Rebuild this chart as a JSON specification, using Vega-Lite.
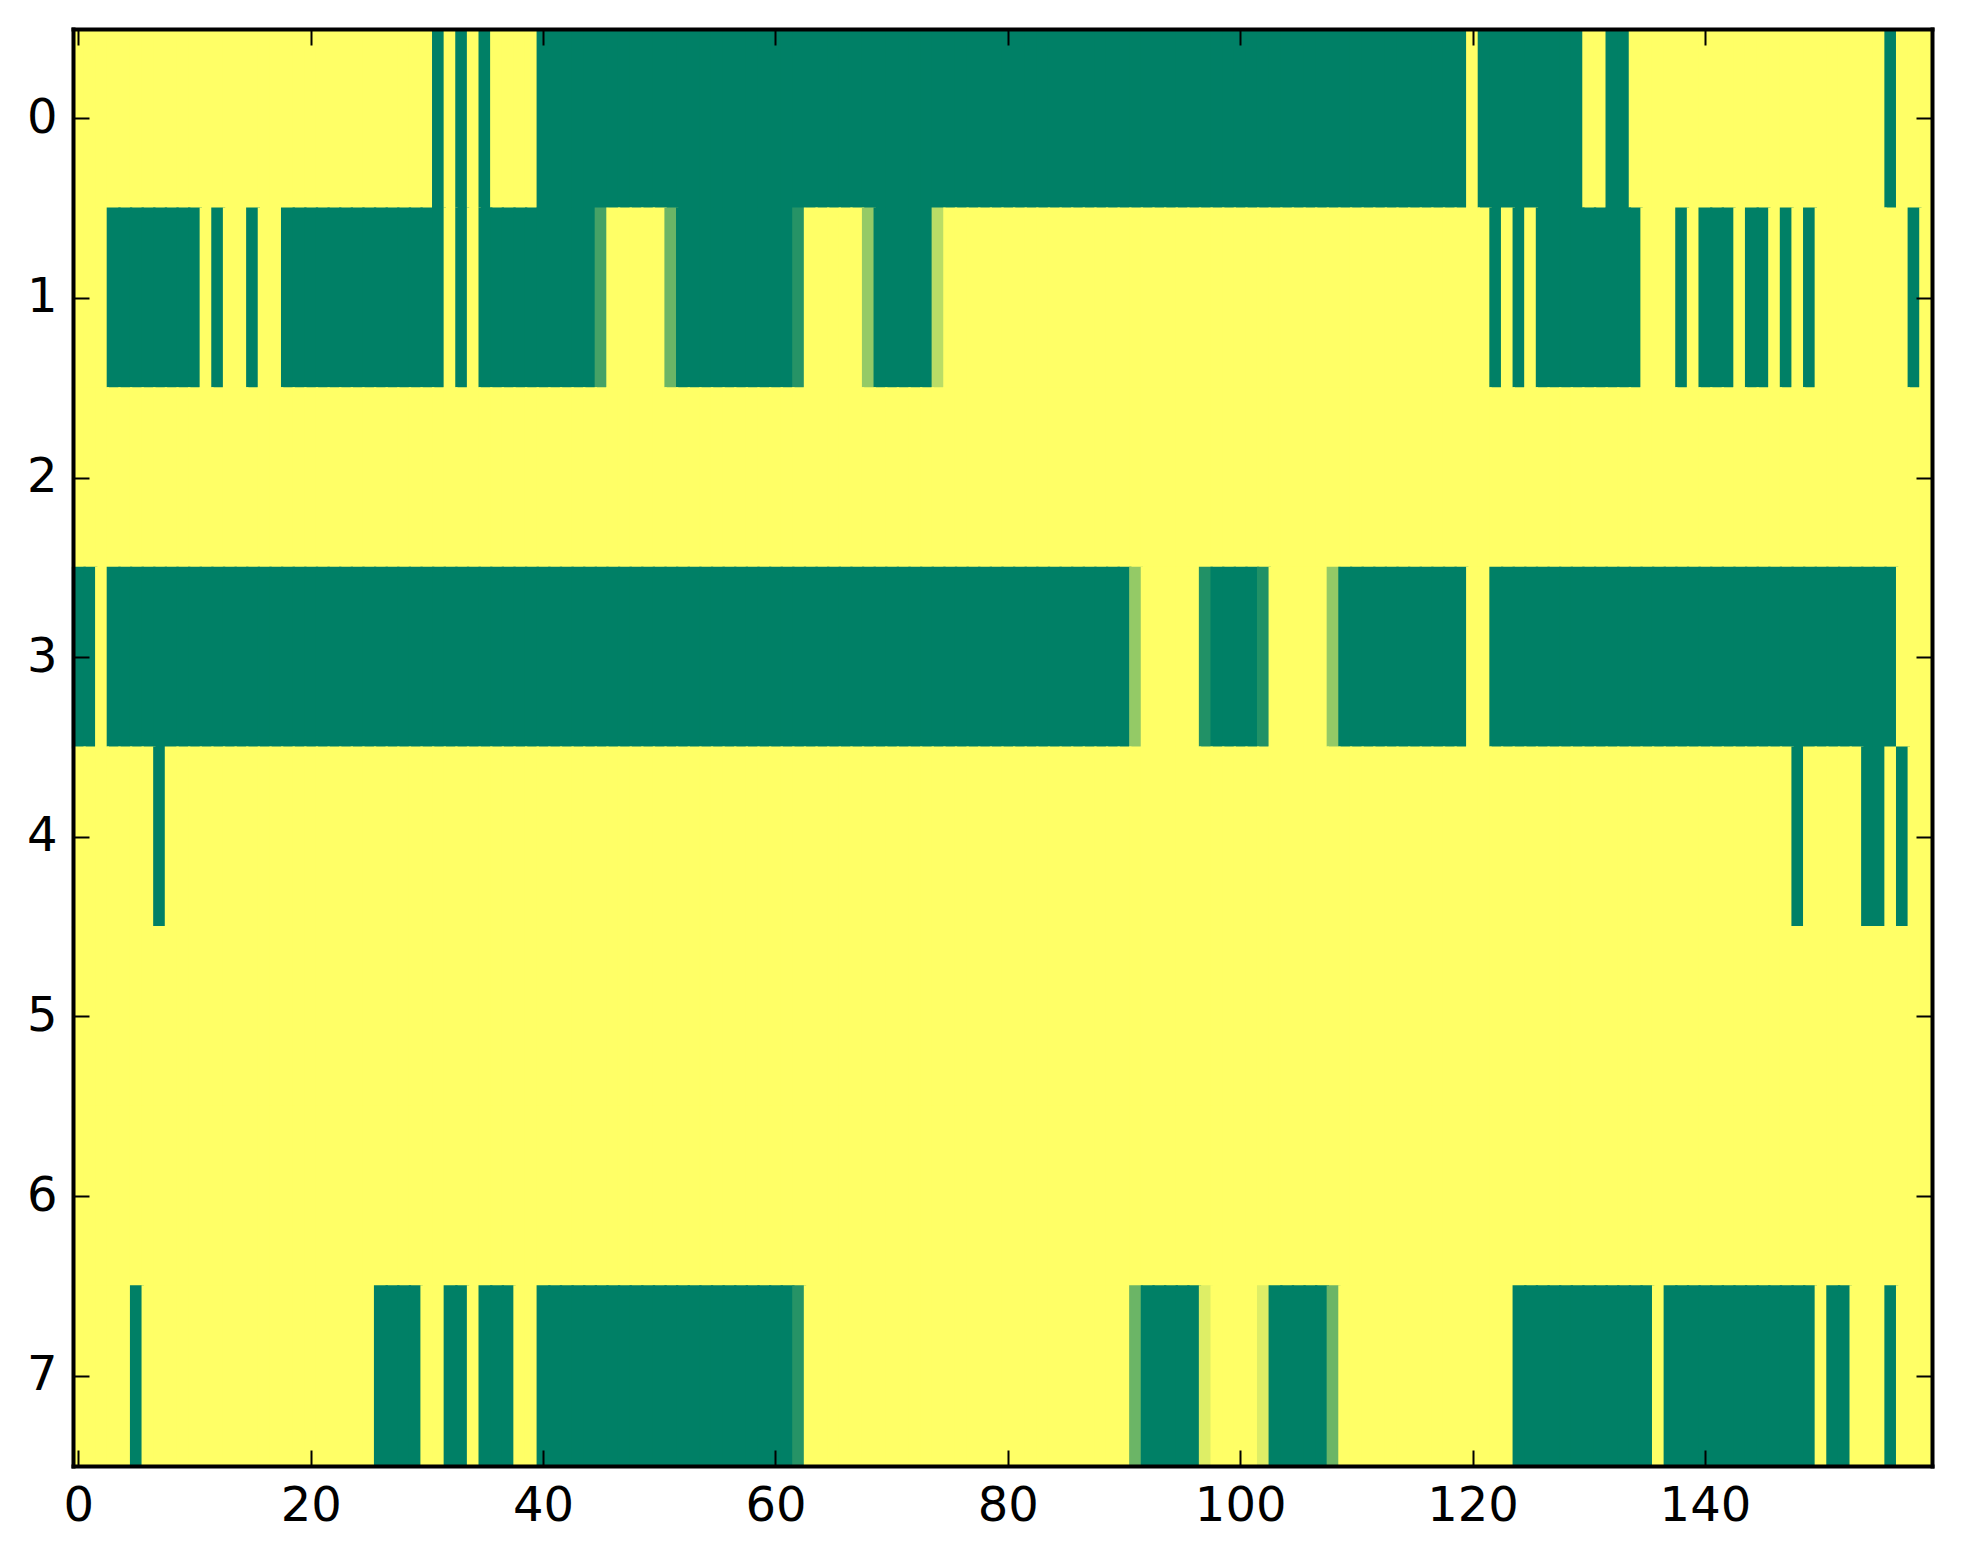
{
"$schema":"https://vega.github.io/schema/vega-lite/v6.json",
"width":1859,"height":1437,
"autosize":{"type":"none"},
"padding":{"left":73,"top":29,"right":31,"bottom":98},
"background":"white",
"config":{"view":{"stroke":null},"axis":{"labelFont":"DejaVu Sans","labelFontSize":48,"labelColor":"black","tickColor":"black","tickWidth":2,"tickSize":-16,"domainColor":"black","domainWidth":4,"domainCap":"square","grid":false,"title":null}},
"data":{"values":[
{"r":0,"c":0,"v":0},{"r":0,"c":1,"v":0},{"r":0,"c":2,"v":0},{"r":0,"c":3,"v":0},{"r":0,"c":4,"v":0},{"r":0,"c":5,"v":0},{"r":0,"c":6,"v":0},{"r":0,"c":7,"v":0},{"r":0,"c":8,"v":0},{"r":0,"c":9,"v":0},
{"r":0,"c":10,"v":0},{"r":0,"c":11,"v":0},{"r":0,"c":12,"v":0},{"r":0,"c":13,"v":0},{"r":0,"c":14,"v":0},{"r":0,"c":15,"v":0},{"r":0,"c":16,"v":0},{"r":0,"c":17,"v":0},{"r":0,"c":18,"v":0},{"r":0,"c":19,"v":0},
{"r":0,"c":20,"v":0},{"r":0,"c":21,"v":0},{"r":0,"c":22,"v":0},{"r":0,"c":23,"v":0},{"r":0,"c":24,"v":0},{"r":0,"c":25,"v":0},{"r":0,"c":26,"v":0},{"r":0,"c":27,"v":0},{"r":0,"c":28,"v":0},{"r":0,"c":29,"v":0},
{"r":0,"c":30,"v":0},{"r":0,"c":31,"v":1},{"r":0,"c":32,"v":0},{"r":0,"c":33,"v":1},{"r":0,"c":34,"v":0},{"r":0,"c":35,"v":1},{"r":0,"c":36,"v":0},{"r":0,"c":37,"v":0},{"r":0,"c":38,"v":0},{"r":0,"c":39,"v":0},
{"r":0,"c":40,"v":1},{"r":0,"c":41,"v":1},{"r":0,"c":42,"v":1},{"r":0,"c":43,"v":1},{"r":0,"c":44,"v":1},{"r":0,"c":45,"v":1},{"r":0,"c":46,"v":1},{"r":0,"c":47,"v":1},{"r":0,"c":48,"v":1},{"r":0,"c":49,"v":1},
{"r":0,"c":50,"v":1},{"r":0,"c":51,"v":1},{"r":0,"c":52,"v":1},{"r":0,"c":53,"v":1},{"r":0,"c":54,"v":1},{"r":0,"c":55,"v":1},{"r":0,"c":56,"v":1},{"r":0,"c":57,"v":1},{"r":0,"c":58,"v":1},{"r":0,"c":59,"v":1},
{"r":0,"c":60,"v":1},{"r":0,"c":61,"v":1},{"r":0,"c":62,"v":1},{"r":0,"c":63,"v":1},{"r":0,"c":64,"v":1},{"r":0,"c":65,"v":1},{"r":0,"c":66,"v":1},{"r":0,"c":67,"v":1},{"r":0,"c":68,"v":1},{"r":0,"c":69,"v":1},
{"r":0,"c":70,"v":1},{"r":0,"c":71,"v":1},{"r":0,"c":72,"v":1},{"r":0,"c":73,"v":1},{"r":0,"c":74,"v":1},{"r":0,"c":75,"v":1},{"r":0,"c":76,"v":1},{"r":0,"c":77,"v":1},{"r":0,"c":78,"v":1},{"r":0,"c":79,"v":1},
{"r":0,"c":80,"v":1},{"r":0,"c":81,"v":1},{"r":0,"c":82,"v":1},{"r":0,"c":83,"v":1},{"r":0,"c":84,"v":1},{"r":0,"c":85,"v":1},{"r":0,"c":86,"v":1},{"r":0,"c":87,"v":1},{"r":0,"c":88,"v":1},{"r":0,"c":89,"v":1},
{"r":0,"c":90,"v":1},{"r":0,"c":91,"v":1},{"r":0,"c":92,"v":1},{"r":0,"c":93,"v":1},{"r":0,"c":94,"v":1},{"r":0,"c":95,"v":1},{"r":0,"c":96,"v":1},{"r":0,"c":97,"v":1},{"r":0,"c":98,"v":1},{"r":0,"c":99,"v":1},
{"r":0,"c":100,"v":1},{"r":0,"c":101,"v":1},{"r":0,"c":102,"v":1},{"r":0,"c":103,"v":1},{"r":0,"c":104,"v":1},{"r":0,"c":105,"v":1},{"r":0,"c":106,"v":1},{"r":0,"c":107,"v":1},{"r":0,"c":108,"v":1},{"r":0,"c":109,"v":1},
{"r":0,"c":110,"v":1},{"r":0,"c":111,"v":1},{"r":0,"c":112,"v":1},{"r":0,"c":113,"v":1},{"r":0,"c":114,"v":1},{"r":0,"c":115,"v":1},{"r":0,"c":116,"v":1},{"r":0,"c":117,"v":1},{"r":0,"c":118,"v":1},{"r":0,"c":119,"v":1},
{"r":0,"c":120,"v":0},{"r":0,"c":121,"v":1},{"r":0,"c":122,"v":1},{"r":0,"c":123,"v":1},{"r":0,"c":124,"v":1},{"r":0,"c":125,"v":1},{"r":0,"c":126,"v":1},{"r":0,"c":127,"v":1},{"r":0,"c":128,"v":1},{"r":0,"c":129,"v":1},
{"r":0,"c":130,"v":0},{"r":0,"c":131,"v":0},{"r":0,"c":132,"v":1},{"r":0,"c":133,"v":1},{"r":0,"c":134,"v":0},{"r":0,"c":135,"v":0},{"r":0,"c":136,"v":0},{"r":0,"c":137,"v":0},{"r":0,"c":138,"v":0},{"r":0,"c":139,"v":0},
{"r":0,"c":140,"v":0},{"r":0,"c":141,"v":0},{"r":0,"c":142,"v":0},{"r":0,"c":143,"v":0},{"r":0,"c":144,"v":0},{"r":0,"c":145,"v":0},{"r":0,"c":146,"v":0},{"r":0,"c":147,"v":0},{"r":0,"c":148,"v":0},{"r":0,"c":149,"v":0},
{"r":0,"c":150,"v":0},{"r":0,"c":151,"v":0},{"r":0,"c":152,"v":0},{"r":0,"c":153,"v":0},{"r":0,"c":154,"v":0},{"r":0,"c":155,"v":0},{"r":0,"c":156,"v":1},{"r":0,"c":157,"v":0},{"r":0,"c":158,"v":0},{"r":0,"c":159,"v":0},
{"r":1,"c":0,"v":0},{"r":1,"c":1,"v":0},{"r":1,"c":2,"v":0},{"r":1,"c":3,"v":1},{"r":1,"c":4,"v":1},{"r":1,"c":5,"v":1},{"r":1,"c":6,"v":1},{"r":1,"c":7,"v":1},{"r":1,"c":8,"v":1},{"r":1,"c":9,"v":1},
{"r":1,"c":10,"v":1},{"r":1,"c":11,"v":0},{"r":1,"c":12,"v":1},{"r":1,"c":13,"v":0},{"r":1,"c":14,"v":0},{"r":1,"c":15,"v":1},{"r":1,"c":16,"v":0},{"r":1,"c":17,"v":0},{"r":1,"c":18,"v":1},{"r":1,"c":19,"v":1},
{"r":1,"c":20,"v":1},{"r":1,"c":21,"v":1},{"r":1,"c":22,"v":1},{"r":1,"c":23,"v":1},{"r":1,"c":24,"v":1},{"r":1,"c":25,"v":1},{"r":1,"c":26,"v":1},{"r":1,"c":27,"v":1},{"r":1,"c":28,"v":1},{"r":1,"c":29,"v":1},
{"r":1,"c":30,"v":1},{"r":1,"c":31,"v":1},{"r":1,"c":32,"v":0},{"r":1,"c":33,"v":1},{"r":1,"c":34,"v":0},{"r":1,"c":35,"v":1},{"r":1,"c":36,"v":1},{"r":1,"c":37,"v":1},{"r":1,"c":38,"v":1},{"r":1,"c":39,"v":1},
{"r":1,"c":40,"v":1},{"r":1,"c":41,"v":1},{"r":1,"c":42,"v":1},{"r":1,"c":43,"v":1},{"r":1,"c":44,"v":1},{"r":1,"c":45,"v":0.73},{"r":1,"c":46,"v":0},{"r":1,"c":47,"v":0},{"r":1,"c":48,"v":0},{"r":1,"c":49,"v":0},
{"r":1,"c":50,"v":0},{"r":1,"c":51,"v":0.58},{"r":1,"c":52,"v":1},{"r":1,"c":53,"v":1},{"r":1,"c":54,"v":1},{"r":1,"c":55,"v":1},{"r":1,"c":56,"v":1},{"r":1,"c":57,"v":1},{"r":1,"c":58,"v":1},{"r":1,"c":59,"v":1},
{"r":1,"c":60,"v":1},{"r":1,"c":61,"v":1},{"r":1,"c":62,"v":0.85},{"r":1,"c":63,"v":0},{"r":1,"c":64,"v":0},{"r":1,"c":65,"v":0},{"r":1,"c":66,"v":0},{"r":1,"c":67,"v":0},{"r":1,"c":68,"v":0.42},{"r":1,"c":69,"v":1},
{"r":1,"c":70,"v":1},{"r":1,"c":71,"v":1},{"r":1,"c":72,"v":1},{"r":1,"c":73,"v":1},{"r":1,"c":74,"v":0.27},{"r":1,"c":75,"v":0},{"r":1,"c":76,"v":0},{"r":1,"c":77,"v":0},{"r":1,"c":78,"v":0},{"r":1,"c":79,"v":0},
{"r":1,"c":80,"v":0},{"r":1,"c":81,"v":0},{"r":1,"c":82,"v":0},{"r":1,"c":83,"v":0},{"r":1,"c":84,"v":0},{"r":1,"c":85,"v":0},{"r":1,"c":86,"v":0},{"r":1,"c":87,"v":0},{"r":1,"c":88,"v":0},{"r":1,"c":89,"v":0},
{"r":1,"c":90,"v":0},{"r":1,"c":91,"v":0},{"r":1,"c":92,"v":0},{"r":1,"c":93,"v":0},{"r":1,"c":94,"v":0},{"r":1,"c":95,"v":0},{"r":1,"c":96,"v":0},{"r":1,"c":97,"v":0},{"r":1,"c":98,"v":0},{"r":1,"c":99,"v":0},
{"r":1,"c":100,"v":0},{"r":1,"c":101,"v":0},{"r":1,"c":102,"v":0},{"r":1,"c":103,"v":0},{"r":1,"c":104,"v":0},{"r":1,"c":105,"v":0},{"r":1,"c":106,"v":0},{"r":1,"c":107,"v":0},{"r":1,"c":108,"v":0},{"r":1,"c":109,"v":0},
{"r":1,"c":110,"v":0},{"r":1,"c":111,"v":0},{"r":1,"c":112,"v":0},{"r":1,"c":113,"v":0},{"r":1,"c":114,"v":0},{"r":1,"c":115,"v":0},{"r":1,"c":116,"v":0},{"r":1,"c":117,"v":0},{"r":1,"c":118,"v":0},{"r":1,"c":119,"v":0},
{"r":1,"c":120,"v":0},{"r":1,"c":121,"v":0},{"r":1,"c":122,"v":1},{"r":1,"c":123,"v":0},{"r":1,"c":124,"v":1},{"r":1,"c":125,"v":0},{"r":1,"c":126,"v":1},{"r":1,"c":127,"v":1},{"r":1,"c":128,"v":1},{"r":1,"c":129,"v":1},
{"r":1,"c":130,"v":1},{"r":1,"c":131,"v":1},{"r":1,"c":132,"v":1},{"r":1,"c":133,"v":1},{"r":1,"c":134,"v":1},{"r":1,"c":135,"v":0},{"r":1,"c":136,"v":0},{"r":1,"c":137,"v":0},{"r":1,"c":138,"v":1},{"r":1,"c":139,"v":0},
{"r":1,"c":140,"v":1},{"r":1,"c":141,"v":1},{"r":1,"c":142,"v":1},{"r":1,"c":143,"v":0},{"r":1,"c":144,"v":1},{"r":1,"c":145,"v":1},{"r":1,"c":146,"v":0},{"r":1,"c":147,"v":1},{"r":1,"c":148,"v":0},{"r":1,"c":149,"v":1},
{"r":1,"c":150,"v":0},{"r":1,"c":151,"v":0},{"r":1,"c":152,"v":0},{"r":1,"c":153,"v":0},{"r":1,"c":154,"v":0},{"r":1,"c":155,"v":0},{"r":1,"c":156,"v":0},{"r":1,"c":157,"v":0},{"r":1,"c":158,"v":1},{"r":1,"c":159,"v":0},
{"r":2,"c":0,"v":0},{"r":2,"c":1,"v":0},{"r":2,"c":2,"v":0},{"r":2,"c":3,"v":0},{"r":2,"c":4,"v":0},{"r":2,"c":5,"v":0},{"r":2,"c":6,"v":0},{"r":2,"c":7,"v":0},{"r":2,"c":8,"v":0},{"r":2,"c":9,"v":0},
{"r":2,"c":10,"v":0},{"r":2,"c":11,"v":0},{"r":2,"c":12,"v":0},{"r":2,"c":13,"v":0},{"r":2,"c":14,"v":0},{"r":2,"c":15,"v":0},{"r":2,"c":16,"v":0},{"r":2,"c":17,"v":0},{"r":2,"c":18,"v":0},{"r":2,"c":19,"v":0},
{"r":2,"c":20,"v":0},{"r":2,"c":21,"v":0},{"r":2,"c":22,"v":0},{"r":2,"c":23,"v":0},{"r":2,"c":24,"v":0},{"r":2,"c":25,"v":0},{"r":2,"c":26,"v":0},{"r":2,"c":27,"v":0},{"r":2,"c":28,"v":0},{"r":2,"c":29,"v":0},
{"r":2,"c":30,"v":0},{"r":2,"c":31,"v":0},{"r":2,"c":32,"v":0},{"r":2,"c":33,"v":0},{"r":2,"c":34,"v":0},{"r":2,"c":35,"v":0},{"r":2,"c":36,"v":0},{"r":2,"c":37,"v":0},{"r":2,"c":38,"v":0},{"r":2,"c":39,"v":0},
{"r":2,"c":40,"v":0},{"r":2,"c":41,"v":0},{"r":2,"c":42,"v":0},{"r":2,"c":43,"v":0},{"r":2,"c":44,"v":0},{"r":2,"c":45,"v":0},{"r":2,"c":46,"v":0},{"r":2,"c":47,"v":0},{"r":2,"c":48,"v":0},{"r":2,"c":49,"v":0},
{"r":2,"c":50,"v":0},{"r":2,"c":51,"v":0},{"r":2,"c":52,"v":0},{"r":2,"c":53,"v":0},{"r":2,"c":54,"v":0},{"r":2,"c":55,"v":0},{"r":2,"c":56,"v":0},{"r":2,"c":57,"v":0},{"r":2,"c":58,"v":0},{"r":2,"c":59,"v":0},
{"r":2,"c":60,"v":0},{"r":2,"c":61,"v":0},{"r":2,"c":62,"v":0},{"r":2,"c":63,"v":0},{"r":2,"c":64,"v":0},{"r":2,"c":65,"v":0},{"r":2,"c":66,"v":0},{"r":2,"c":67,"v":0},{"r":2,"c":68,"v":0},{"r":2,"c":69,"v":0},
{"r":2,"c":70,"v":0},{"r":2,"c":71,"v":0},{"r":2,"c":72,"v":0},{"r":2,"c":73,"v":0},{"r":2,"c":74,"v":0},{"r":2,"c":75,"v":0},{"r":2,"c":76,"v":0},{"r":2,"c":77,"v":0},{"r":2,"c":78,"v":0},{"r":2,"c":79,"v":0},
{"r":2,"c":80,"v":0},{"r":2,"c":81,"v":0},{"r":2,"c":82,"v":0},{"r":2,"c":83,"v":0},{"r":2,"c":84,"v":0},{"r":2,"c":85,"v":0},{"r":2,"c":86,"v":0},{"r":2,"c":87,"v":0},{"r":2,"c":88,"v":0},{"r":2,"c":89,"v":0},
{"r":2,"c":90,"v":0},{"r":2,"c":91,"v":0},{"r":2,"c":92,"v":0},{"r":2,"c":93,"v":0},{"r":2,"c":94,"v":0},{"r":2,"c":95,"v":0},{"r":2,"c":96,"v":0},{"r":2,"c":97,"v":0},{"r":2,"c":98,"v":0},{"r":2,"c":99,"v":0},
{"r":2,"c":100,"v":0},{"r":2,"c":101,"v":0},{"r":2,"c":102,"v":0},{"r":2,"c":103,"v":0},{"r":2,"c":104,"v":0},{"r":2,"c":105,"v":0},{"r":2,"c":106,"v":0},{"r":2,"c":107,"v":0},{"r":2,"c":108,"v":0},{"r":2,"c":109,"v":0},
{"r":2,"c":110,"v":0},{"r":2,"c":111,"v":0},{"r":2,"c":112,"v":0},{"r":2,"c":113,"v":0},{"r":2,"c":114,"v":0},{"r":2,"c":115,"v":0},{"r":2,"c":116,"v":0},{"r":2,"c":117,"v":0},{"r":2,"c":118,"v":0},{"r":2,"c":119,"v":0},
{"r":2,"c":120,"v":0},{"r":2,"c":121,"v":0},{"r":2,"c":122,"v":0},{"r":2,"c":123,"v":0},{"r":2,"c":124,"v":0},{"r":2,"c":125,"v":0},{"r":2,"c":126,"v":0},{"r":2,"c":127,"v":0},{"r":2,"c":128,"v":0},{"r":2,"c":129,"v":0},
{"r":2,"c":130,"v":0},{"r":2,"c":131,"v":0},{"r":2,"c":132,"v":0},{"r":2,"c":133,"v":0},{"r":2,"c":134,"v":0},{"r":2,"c":135,"v":0},{"r":2,"c":136,"v":0},{"r":2,"c":137,"v":0},{"r":2,"c":138,"v":0},{"r":2,"c":139,"v":0},
{"r":2,"c":140,"v":0},{"r":2,"c":141,"v":0},{"r":2,"c":142,"v":0},{"r":2,"c":143,"v":0},{"r":2,"c":144,"v":0},{"r":2,"c":145,"v":0},{"r":2,"c":146,"v":0},{"r":2,"c":147,"v":0},{"r":2,"c":148,"v":0},{"r":2,"c":149,"v":0},
{"r":2,"c":150,"v":0},{"r":2,"c":151,"v":0},{"r":2,"c":152,"v":0},{"r":2,"c":153,"v":0},{"r":2,"c":154,"v":0},{"r":2,"c":155,"v":0},{"r":2,"c":156,"v":0},{"r":2,"c":157,"v":0},{"r":2,"c":158,"v":0},{"r":2,"c":159,"v":0},
{"r":3,"c":0,"v":1},{"r":3,"c":1,"v":1},{"r":3,"c":2,"v":0},{"r":3,"c":3,"v":1},{"r":3,"c":4,"v":1},{"r":3,"c":5,"v":1},{"r":3,"c":6,"v":1},{"r":3,"c":7,"v":1},{"r":3,"c":8,"v":1},{"r":3,"c":9,"v":1},
{"r":3,"c":10,"v":1},{"r":3,"c":11,"v":1},{"r":3,"c":12,"v":1},{"r":3,"c":13,"v":1},{"r":3,"c":14,"v":1},{"r":3,"c":15,"v":1},{"r":3,"c":16,"v":1},{"r":3,"c":17,"v":1},{"r":3,"c":18,"v":1},{"r":3,"c":19,"v":1},
{"r":3,"c":20,"v":1},{"r":3,"c":21,"v":1},{"r":3,"c":22,"v":1},{"r":3,"c":23,"v":1},{"r":3,"c":24,"v":1},{"r":3,"c":25,"v":1},{"r":3,"c":26,"v":1},{"r":3,"c":27,"v":1},{"r":3,"c":28,"v":1},{"r":3,"c":29,"v":1},
{"r":3,"c":30,"v":1},{"r":3,"c":31,"v":1},{"r":3,"c":32,"v":1},{"r":3,"c":33,"v":1},{"r":3,"c":34,"v":1},{"r":3,"c":35,"v":1},{"r":3,"c":36,"v":1},{"r":3,"c":37,"v":1},{"r":3,"c":38,"v":1},{"r":3,"c":39,"v":1},
{"r":3,"c":40,"v":1},{"r":3,"c":41,"v":1},{"r":3,"c":42,"v":1},{"r":3,"c":43,"v":1},{"r":3,"c":44,"v":1},{"r":3,"c":45,"v":1},{"r":3,"c":46,"v":1},{"r":3,"c":47,"v":1},{"r":3,"c":48,"v":1},{"r":3,"c":49,"v":1},
{"r":3,"c":50,"v":1},{"r":3,"c":51,"v":1},{"r":3,"c":52,"v":1},{"r":3,"c":53,"v":1},{"r":3,"c":54,"v":1},{"r":3,"c":55,"v":1},{"r":3,"c":56,"v":1},{"r":3,"c":57,"v":1},{"r":3,"c":58,"v":1},{"r":3,"c":59,"v":1},
{"r":3,"c":60,"v":1},{"r":3,"c":61,"v":1},{"r":3,"c":62,"v":1},{"r":3,"c":63,"v":1},{"r":3,"c":64,"v":1},{"r":3,"c":65,"v":1},{"r":3,"c":66,"v":1},{"r":3,"c":67,"v":1},{"r":3,"c":68,"v":1},{"r":3,"c":69,"v":1},
{"r":3,"c":70,"v":1},{"r":3,"c":71,"v":1},{"r":3,"c":72,"v":1},{"r":3,"c":73,"v":1},{"r":3,"c":74,"v":1},{"r":3,"c":75,"v":1},{"r":3,"c":76,"v":1},{"r":3,"c":77,"v":1},{"r":3,"c":78,"v":1},{"r":3,"c":79,"v":1},
{"r":3,"c":80,"v":1},{"r":3,"c":81,"v":1},{"r":3,"c":82,"v":1},{"r":3,"c":83,"v":1},{"r":3,"c":84,"v":1},{"r":3,"c":85,"v":1},{"r":3,"c":86,"v":1},{"r":3,"c":87,"v":1},{"r":3,"c":88,"v":1},{"r":3,"c":89,"v":1},
{"r":3,"c":90,"v":1},{"r":3,"c":91,"v":0.42},{"r":3,"c":92,"v":0},{"r":3,"c":93,"v":0},{"r":3,"c":94,"v":0},{"r":3,"c":95,"v":0},{"r":3,"c":96,"v":0},{"r":3,"c":97,"v":0.87},{"r":3,"c":98,"v":1},{"r":3,"c":99,"v":1},
{"r":3,"c":100,"v":1},{"r":3,"c":101,"v":1},{"r":3,"c":102,"v":0.87},{"r":3,"c":103,"v":0},{"r":3,"c":104,"v":0},{"r":3,"c":105,"v":0},{"r":3,"c":106,"v":0},{"r":3,"c":107,"v":0},{"r":3,"c":108,"v":0.42},{"r":3,"c":109,"v":1},
{"r":3,"c":110,"v":1},{"r":3,"c":111,"v":1},{"r":3,"c":112,"v":1},{"r":3,"c":113,"v":1},{"r":3,"c":114,"v":1},{"r":3,"c":115,"v":1},{"r":3,"c":116,"v":1},{"r":3,"c":117,"v":1},{"r":3,"c":118,"v":1},{"r":3,"c":119,"v":1},
{"r":3,"c":120,"v":0},{"r":3,"c":121,"v":0},{"r":3,"c":122,"v":1},{"r":3,"c":123,"v":1},{"r":3,"c":124,"v":1},{"r":3,"c":125,"v":1},{"r":3,"c":126,"v":1},{"r":3,"c":127,"v":1},{"r":3,"c":128,"v":1},{"r":3,"c":129,"v":1},
{"r":3,"c":130,"v":1},{"r":3,"c":131,"v":1},{"r":3,"c":132,"v":1},{"r":3,"c":133,"v":1},{"r":3,"c":134,"v":1},{"r":3,"c":135,"v":1},{"r":3,"c":136,"v":1},{"r":3,"c":137,"v":1},{"r":3,"c":138,"v":1},{"r":3,"c":139,"v":1},
{"r":3,"c":140,"v":1},{"r":3,"c":141,"v":1},{"r":3,"c":142,"v":1},{"r":3,"c":143,"v":1},{"r":3,"c":144,"v":1},{"r":3,"c":145,"v":1},{"r":3,"c":146,"v":1},{"r":3,"c":147,"v":1},{"r":3,"c":148,"v":1},{"r":3,"c":149,"v":1},
{"r":3,"c":150,"v":1},{"r":3,"c":151,"v":1},{"r":3,"c":152,"v":1},{"r":3,"c":153,"v":1},{"r":3,"c":154,"v":1},{"r":3,"c":155,"v":1},{"r":3,"c":156,"v":1},{"r":3,"c":157,"v":0},{"r":3,"c":158,"v":0},{"r":3,"c":159,"v":0},
{"r":4,"c":0,"v":0},{"r":4,"c":1,"v":0},{"r":4,"c":2,"v":0},{"r":4,"c":3,"v":0},{"r":4,"c":4,"v":0},{"r":4,"c":5,"v":0},{"r":4,"c":6,"v":0},{"r":4,"c":7,"v":1},{"r":4,"c":8,"v":0},{"r":4,"c":9,"v":0},
{"r":4,"c":10,"v":0},{"r":4,"c":11,"v":0},{"r":4,"c":12,"v":0},{"r":4,"c":13,"v":0},{"r":4,"c":14,"v":0},{"r":4,"c":15,"v":0},{"r":4,"c":16,"v":0},{"r":4,"c":17,"v":0},{"r":4,"c":18,"v":0},{"r":4,"c":19,"v":0},
{"r":4,"c":20,"v":0},{"r":4,"c":21,"v":0},{"r":4,"c":22,"v":0},{"r":4,"c":23,"v":0},{"r":4,"c":24,"v":0},{"r":4,"c":25,"v":0},{"r":4,"c":26,"v":0},{"r":4,"c":27,"v":0},{"r":4,"c":28,"v":0},{"r":4,"c":29,"v":0},
{"r":4,"c":30,"v":0},{"r":4,"c":31,"v":0},{"r":4,"c":32,"v":0},{"r":4,"c":33,"v":0},{"r":4,"c":34,"v":0},{"r":4,"c":35,"v":0},{"r":4,"c":36,"v":0},{"r":4,"c":37,"v":0},{"r":4,"c":38,"v":0},{"r":4,"c":39,"v":0},
{"r":4,"c":40,"v":0},{"r":4,"c":41,"v":0},{"r":4,"c":42,"v":0},{"r":4,"c":43,"v":0},{"r":4,"c":44,"v":0},{"r":4,"c":45,"v":0},{"r":4,"c":46,"v":0},{"r":4,"c":47,"v":0},{"r":4,"c":48,"v":0},{"r":4,"c":49,"v":0},
{"r":4,"c":50,"v":0},{"r":4,"c":51,"v":0},{"r":4,"c":52,"v":0},{"r":4,"c":53,"v":0},{"r":4,"c":54,"v":0},{"r":4,"c":55,"v":0},{"r":4,"c":56,"v":0},{"r":4,"c":57,"v":0},{"r":4,"c":58,"v":0},{"r":4,"c":59,"v":0},
{"r":4,"c":60,"v":0},{"r":4,"c":61,"v":0},{"r":4,"c":62,"v":0},{"r":4,"c":63,"v":0},{"r":4,"c":64,"v":0},{"r":4,"c":65,"v":0},{"r":4,"c":66,"v":0},{"r":4,"c":67,"v":0},{"r":4,"c":68,"v":0},{"r":4,"c":69,"v":0},
{"r":4,"c":70,"v":0},{"r":4,"c":71,"v":0},{"r":4,"c":72,"v":0},{"r":4,"c":73,"v":0},{"r":4,"c":74,"v":0},{"r":4,"c":75,"v":0},{"r":4,"c":76,"v":0},{"r":4,"c":77,"v":0},{"r":4,"c":78,"v":0},{"r":4,"c":79,"v":0},
{"r":4,"c":80,"v":0},{"r":4,"c":81,"v":0},{"r":4,"c":82,"v":0},{"r":4,"c":83,"v":0},{"r":4,"c":84,"v":0},{"r":4,"c":85,"v":0},{"r":4,"c":86,"v":0},{"r":4,"c":87,"v":0},{"r":4,"c":88,"v":0},{"r":4,"c":89,"v":0},
{"r":4,"c":90,"v":0},{"r":4,"c":91,"v":0},{"r":4,"c":92,"v":0},{"r":4,"c":93,"v":0},{"r":4,"c":94,"v":0},{"r":4,"c":95,"v":0},{"r":4,"c":96,"v":0},{"r":4,"c":97,"v":0},{"r":4,"c":98,"v":0},{"r":4,"c":99,"v":0},
{"r":4,"c":100,"v":0},{"r":4,"c":101,"v":0},{"r":4,"c":102,"v":0},{"r":4,"c":103,"v":0},{"r":4,"c":104,"v":0},{"r":4,"c":105,"v":0},{"r":4,"c":106,"v":0},{"r":4,"c":107,"v":0},{"r":4,"c":108,"v":0},{"r":4,"c":109,"v":0},
{"r":4,"c":110,"v":0},{"r":4,"c":111,"v":0},{"r":4,"c":112,"v":0},{"r":4,"c":113,"v":0},{"r":4,"c":114,"v":0},{"r":4,"c":115,"v":0},{"r":4,"c":116,"v":0},{"r":4,"c":117,"v":0},{"r":4,"c":118,"v":0},{"r":4,"c":119,"v":0},
{"r":4,"c":120,"v":0},{"r":4,"c":121,"v":0},{"r":4,"c":122,"v":0},{"r":4,"c":123,"v":0},{"r":4,"c":124,"v":0},{"r":4,"c":125,"v":0},{"r":4,"c":126,"v":0},{"r":4,"c":127,"v":0},{"r":4,"c":128,"v":0},{"r":4,"c":129,"v":0},
{"r":4,"c":130,"v":0},{"r":4,"c":131,"v":0},{"r":4,"c":132,"v":0},{"r":4,"c":133,"v":0},{"r":4,"c":134,"v":0},{"r":4,"c":135,"v":0},{"r":4,"c":136,"v":0},{"r":4,"c":137,"v":0},{"r":4,"c":138,"v":0},{"r":4,"c":139,"v":0},
{"r":4,"c":140,"v":0},{"r":4,"c":141,"v":0},{"r":4,"c":142,"v":0},{"r":4,"c":143,"v":0},{"r":4,"c":144,"v":0},{"r":4,"c":145,"v":0},{"r":4,"c":146,"v":0},{"r":4,"c":147,"v":0},{"r":4,"c":148,"v":1},{"r":4,"c":149,"v":0},
{"r":4,"c":150,"v":0},{"r":4,"c":151,"v":0},{"r":4,"c":152,"v":0},{"r":4,"c":153,"v":0},{"r":4,"c":154,"v":1},{"r":4,"c":155,"v":1},{"r":4,"c":156,"v":0},{"r":4,"c":157,"v":1},{"r":4,"c":158,"v":0},{"r":4,"c":159,"v":0},
{"r":5,"c":0,"v":0},{"r":5,"c":1,"v":0},{"r":5,"c":2,"v":0},{"r":5,"c":3,"v":0},{"r":5,"c":4,"v":0},{"r":5,"c":5,"v":0},{"r":5,"c":6,"v":0},{"r":5,"c":7,"v":0},{"r":5,"c":8,"v":0},{"r":5,"c":9,"v":0},
{"r":5,"c":10,"v":0},{"r":5,"c":11,"v":0},{"r":5,"c":12,"v":0},{"r":5,"c":13,"v":0},{"r":5,"c":14,"v":0},{"r":5,"c":15,"v":0},{"r":5,"c":16,"v":0},{"r":5,"c":17,"v":0},{"r":5,"c":18,"v":0},{"r":5,"c":19,"v":0},
{"r":5,"c":20,"v":0},{"r":5,"c":21,"v":0},{"r":5,"c":22,"v":0},{"r":5,"c":23,"v":0},{"r":5,"c":24,"v":0},{"r":5,"c":25,"v":0},{"r":5,"c":26,"v":0},{"r":5,"c":27,"v":0},{"r":5,"c":28,"v":0},{"r":5,"c":29,"v":0},
{"r":5,"c":30,"v":0},{"r":5,"c":31,"v":0},{"r":5,"c":32,"v":0},{"r":5,"c":33,"v":0},{"r":5,"c":34,"v":0},{"r":5,"c":35,"v":0},{"r":5,"c":36,"v":0},{"r":5,"c":37,"v":0},{"r":5,"c":38,"v":0},{"r":5,"c":39,"v":0},
{"r":5,"c":40,"v":0},{"r":5,"c":41,"v":0},{"r":5,"c":42,"v":0},{"r":5,"c":43,"v":0},{"r":5,"c":44,"v":0},{"r":5,"c":45,"v":0},{"r":5,"c":46,"v":0},{"r":5,"c":47,"v":0},{"r":5,"c":48,"v":0},{"r":5,"c":49,"v":0},
{"r":5,"c":50,"v":0},{"r":5,"c":51,"v":0},{"r":5,"c":52,"v":0},{"r":5,"c":53,"v":0},{"r":5,"c":54,"v":0},{"r":5,"c":55,"v":0},{"r":5,"c":56,"v":0},{"r":5,"c":57,"v":0},{"r":5,"c":58,"v":0},{"r":5,"c":59,"v":0},
{"r":5,"c":60,"v":0},{"r":5,"c":61,"v":0},{"r":5,"c":62,"v":0},{"r":5,"c":63,"v":0},{"r":5,"c":64,"v":0},{"r":5,"c":65,"v":0},{"r":5,"c":66,"v":0},{"r":5,"c":67,"v":0},{"r":5,"c":68,"v":0},{"r":5,"c":69,"v":0},
{"r":5,"c":70,"v":0},{"r":5,"c":71,"v":0},{"r":5,"c":72,"v":0},{"r":5,"c":73,"v":0},{"r":5,"c":74,"v":0},{"r":5,"c":75,"v":0},{"r":5,"c":76,"v":0},{"r":5,"c":77,"v":0},{"r":5,"c":78,"v":0},{"r":5,"c":79,"v":0},
{"r":5,"c":80,"v":0},{"r":5,"c":81,"v":0},{"r":5,"c":82,"v":0},{"r":5,"c":83,"v":0},{"r":5,"c":84,"v":0},{"r":5,"c":85,"v":0},{"r":5,"c":86,"v":0},{"r":5,"c":87,"v":0},{"r":5,"c":88,"v":0},{"r":5,"c":89,"v":0},
{"r":5,"c":90,"v":0},{"r":5,"c":91,"v":0},{"r":5,"c":92,"v":0},{"r":5,"c":93,"v":0},{"r":5,"c":94,"v":0},{"r":5,"c":95,"v":0},{"r":5,"c":96,"v":0},{"r":5,"c":97,"v":0},{"r":5,"c":98,"v":0},{"r":5,"c":99,"v":0},
{"r":5,"c":100,"v":0},{"r":5,"c":101,"v":0},{"r":5,"c":102,"v":0},{"r":5,"c":103,"v":0},{"r":5,"c":104,"v":0},{"r":5,"c":105,"v":0},{"r":5,"c":106,"v":0},{"r":5,"c":107,"v":0},{"r":5,"c":108,"v":0},{"r":5,"c":109,"v":0},
{"r":5,"c":110,"v":0},{"r":5,"c":111,"v":0},{"r":5,"c":112,"v":0},{"r":5,"c":113,"v":0},{"r":5,"c":114,"v":0},{"r":5,"c":115,"v":0},{"r":5,"c":116,"v":0},{"r":5,"c":117,"v":0},{"r":5,"c":118,"v":0},{"r":5,"c":119,"v":0},
{"r":5,"c":120,"v":0},{"r":5,"c":121,"v":0},{"r":5,"c":122,"v":0},{"r":5,"c":123,"v":0},{"r":5,"c":124,"v":0},{"r":5,"c":125,"v":0},{"r":5,"c":126,"v":0},{"r":5,"c":127,"v":0},{"r":5,"c":128,"v":0},{"r":5,"c":129,"v":0},
{"r":5,"c":130,"v":0},{"r":5,"c":131,"v":0},{"r":5,"c":132,"v":0},{"r":5,"c":133,"v":0},{"r":5,"c":134,"v":0},{"r":5,"c":135,"v":0},{"r":5,"c":136,"v":0},{"r":5,"c":137,"v":0},{"r":5,"c":138,"v":0},{"r":5,"c":139,"v":0},
{"r":5,"c":140,"v":0},{"r":5,"c":141,"v":0},{"r":5,"c":142,"v":0},{"r":5,"c":143,"v":0},{"r":5,"c":144,"v":0},{"r":5,"c":145,"v":0},{"r":5,"c":146,"v":0},{"r":5,"c":147,"v":0},{"r":5,"c":148,"v":0},{"r":5,"c":149,"v":0},
{"r":5,"c":150,"v":0},{"r":5,"c":151,"v":0},{"r":5,"c":152,"v":0},{"r":5,"c":153,"v":0},{"r":5,"c":154,"v":0},{"r":5,"c":155,"v":0},{"r":5,"c":156,"v":0},{"r":5,"c":157,"v":0},{"r":5,"c":158,"v":0},{"r":5,"c":159,"v":0},
{"r":6,"c":0,"v":0},{"r":6,"c":1,"v":0},{"r":6,"c":2,"v":0},{"r":6,"c":3,"v":0},{"r":6,"c":4,"v":0},{"r":6,"c":5,"v":0},{"r":6,"c":6,"v":0},{"r":6,"c":7,"v":0},{"r":6,"c":8,"v":0},{"r":6,"c":9,"v":0},
{"r":6,"c":10,"v":0},{"r":6,"c":11,"v":0},{"r":6,"c":12,"v":0},{"r":6,"c":13,"v":0},{"r":6,"c":14,"v":0},{"r":6,"c":15,"v":0},{"r":6,"c":16,"v":0},{"r":6,"c":17,"v":0},{"r":6,"c":18,"v":0},{"r":6,"c":19,"v":0},
{"r":6,"c":20,"v":0},{"r":6,"c":21,"v":0},{"r":6,"c":22,"v":0},{"r":6,"c":23,"v":0},{"r":6,"c":24,"v":0},{"r":6,"c":25,"v":0},{"r":6,"c":26,"v":0},{"r":6,"c":27,"v":0},{"r":6,"c":28,"v":0},{"r":6,"c":29,"v":0},
{"r":6,"c":30,"v":0},{"r":6,"c":31,"v":0},{"r":6,"c":32,"v":0},{"r":6,"c":33,"v":0},{"r":6,"c":34,"v":0},{"r":6,"c":35,"v":0},{"r":6,"c":36,"v":0},{"r":6,"c":37,"v":0},{"r":6,"c":38,"v":0},{"r":6,"c":39,"v":0},
{"r":6,"c":40,"v":0},{"r":6,"c":41,"v":0},{"r":6,"c":42,"v":0},{"r":6,"c":43,"v":0},{"r":6,"c":44,"v":0},{"r":6,"c":45,"v":0},{"r":6,"c":46,"v":0},{"r":6,"c":47,"v":0},{"r":6,"c":48,"v":0},{"r":6,"c":49,"v":0},
{"r":6,"c":50,"v":0},{"r":6,"c":51,"v":0},{"r":6,"c":52,"v":0},{"r":6,"c":53,"v":0},{"r":6,"c":54,"v":0},{"r":6,"c":55,"v":0},{"r":6,"c":56,"v":0},{"r":6,"c":57,"v":0},{"r":6,"c":58,"v":0},{"r":6,"c":59,"v":0},
{"r":6,"c":60,"v":0},{"r":6,"c":61,"v":0},{"r":6,"c":62,"v":0},{"r":6,"c":63,"v":0},{"r":6,"c":64,"v":0},{"r":6,"c":65,"v":0},{"r":6,"c":66,"v":0},{"r":6,"c":67,"v":0},{"r":6,"c":68,"v":0},{"r":6,"c":69,"v":0},
{"r":6,"c":70,"v":0},{"r":6,"c":71,"v":0},{"r":6,"c":72,"v":0},{"r":6,"c":73,"v":0},{"r":6,"c":74,"v":0},{"r":6,"c":75,"v":0},{"r":6,"c":76,"v":0},{"r":6,"c":77,"v":0},{"r":6,"c":78,"v":0},{"r":6,"c":79,"v":0},
{"r":6,"c":80,"v":0},{"r":6,"c":81,"v":0},{"r":6,"c":82,"v":0},{"r":6,"c":83,"v":0},{"r":6,"c":84,"v":0},{"r":6,"c":85,"v":0},{"r":6,"c":86,"v":0},{"r":6,"c":87,"v":0},{"r":6,"c":88,"v":0},{"r":6,"c":89,"v":0},
{"r":6,"c":90,"v":0},{"r":6,"c":91,"v":0},{"r":6,"c":92,"v":0},{"r":6,"c":93,"v":0},{"r":6,"c":94,"v":0},{"r":6,"c":95,"v":0},{"r":6,"c":96,"v":0},{"r":6,"c":97,"v":0},{"r":6,"c":98,"v":0},{"r":6,"c":99,"v":0},
{"r":6,"c":100,"v":0},{"r":6,"c":101,"v":0},{"r":6,"c":102,"v":0},{"r":6,"c":103,"v":0},{"r":6,"c":104,"v":0},{"r":6,"c":105,"v":0},{"r":6,"c":106,"v":0},{"r":6,"c":107,"v":0},{"r":6,"c":108,"v":0},{"r":6,"c":109,"v":0},
{"r":6,"c":110,"v":0},{"r":6,"c":111,"v":0},{"r":6,"c":112,"v":0},{"r":6,"c":113,"v":0},{"r":6,"c":114,"v":0},{"r":6,"c":115,"v":0},{"r":6,"c":116,"v":0},{"r":6,"c":117,"v":0},{"r":6,"c":118,"v":0},{"r":6,"c":119,"v":0},
{"r":6,"c":120,"v":0},{"r":6,"c":121,"v":0},{"r":6,"c":122,"v":0},{"r":6,"c":123,"v":0},{"r":6,"c":124,"v":0},{"r":6,"c":125,"v":0},{"r":6,"c":126,"v":0},{"r":6,"c":127,"v":0},{"r":6,"c":128,"v":0},{"r":6,"c":129,"v":0},
{"r":6,"c":130,"v":0},{"r":6,"c":131,"v":0},{"r":6,"c":132,"v":0},{"r":6,"c":133,"v":0},{"r":6,"c":134,"v":0},{"r":6,"c":135,"v":0},{"r":6,"c":136,"v":0},{"r":6,"c":137,"v":0},{"r":6,"c":138,"v":0},{"r":6,"c":139,"v":0},
{"r":6,"c":140,"v":0},{"r":6,"c":141,"v":0},{"r":6,"c":142,"v":0},{"r":6,"c":143,"v":0},{"r":6,"c":144,"v":0},{"r":6,"c":145,"v":0},{"r":6,"c":146,"v":0},{"r":6,"c":147,"v":0},{"r":6,"c":148,"v":0},{"r":6,"c":149,"v":0},
{"r":6,"c":150,"v":0},{"r":6,"c":151,"v":0},{"r":6,"c":152,"v":0},{"r":6,"c":153,"v":0},{"r":6,"c":154,"v":0},{"r":6,"c":155,"v":0},{"r":6,"c":156,"v":0},{"r":6,"c":157,"v":0},{"r":6,"c":158,"v":0},{"r":6,"c":159,"v":0},
{"r":7,"c":0,"v":0},{"r":7,"c":1,"v":0},{"r":7,"c":2,"v":0},{"r":7,"c":3,"v":0},{"r":7,"c":4,"v":0},{"r":7,"c":5,"v":1},{"r":7,"c":6,"v":0},{"r":7,"c":7,"v":0},{"r":7,"c":8,"v":0},{"r":7,"c":9,"v":0},
{"r":7,"c":10,"v":0},{"r":7,"c":11,"v":0},{"r":7,"c":12,"v":0},{"r":7,"c":13,"v":0},{"r":7,"c":14,"v":0},{"r":7,"c":15,"v":0},{"r":7,"c":16,"v":0},{"r":7,"c":17,"v":0},{"r":7,"c":18,"v":0},{"r":7,"c":19,"v":0},
{"r":7,"c":20,"v":0},{"r":7,"c":21,"v":0},{"r":7,"c":22,"v":0},{"r":7,"c":23,"v":0},{"r":7,"c":24,"v":0},{"r":7,"c":25,"v":0},{"r":7,"c":26,"v":1},{"r":7,"c":27,"v":1},{"r":7,"c":28,"v":1},{"r":7,"c":29,"v":1},
{"r":7,"c":30,"v":0},{"r":7,"c":31,"v":0},{"r":7,"c":32,"v":1},{"r":7,"c":33,"v":1},{"r":7,"c":34,"v":0},{"r":7,"c":35,"v":1},{"r":7,"c":36,"v":1},{"r":7,"c":37,"v":1},{"r":7,"c":38,"v":0},{"r":7,"c":39,"v":0},
{"r":7,"c":40,"v":1},{"r":7,"c":41,"v":1},{"r":7,"c":42,"v":1},{"r":7,"c":43,"v":1},{"r":7,"c":44,"v":1},{"r":7,"c":45,"v":1},{"r":7,"c":46,"v":1},{"r":7,"c":47,"v":1},{"r":7,"c":48,"v":1},{"r":7,"c":49,"v":1},
{"r":7,"c":50,"v":1},{"r":7,"c":51,"v":1},{"r":7,"c":52,"v":1},{"r":7,"c":53,"v":1},{"r":7,"c":54,"v":1},{"r":7,"c":55,"v":1},{"r":7,"c":56,"v":1},{"r":7,"c":57,"v":1},{"r":7,"c":58,"v":1},{"r":7,"c":59,"v":1},
{"r":7,"c":60,"v":1},{"r":7,"c":61,"v":1},{"r":7,"c":62,"v":0.85},{"r":7,"c":63,"v":0},{"r":7,"c":64,"v":0},{"r":7,"c":65,"v":0},{"r":7,"c":66,"v":0},{"r":7,"c":67,"v":0},{"r":7,"c":68,"v":0},{"r":7,"c":69,"v":0},
{"r":7,"c":70,"v":0},{"r":7,"c":71,"v":0},{"r":7,"c":72,"v":0},{"r":7,"c":73,"v":0},{"r":7,"c":74,"v":0},{"r":7,"c":75,"v":0},{"r":7,"c":76,"v":0},{"r":7,"c":77,"v":0},{"r":7,"c":78,"v":0},{"r":7,"c":79,"v":0},
{"r":7,"c":80,"v":0},{"r":7,"c":81,"v":0},{"r":7,"c":82,"v":0},{"r":7,"c":83,"v":0},{"r":7,"c":84,"v":0},{"r":7,"c":85,"v":0},{"r":7,"c":86,"v":0},{"r":7,"c":87,"v":0},{"r":7,"c":88,"v":0},{"r":7,"c":89,"v":0},
{"r":7,"c":90,"v":0},{"r":7,"c":91,"v":0.58},{"r":7,"c":92,"v":1},{"r":7,"c":93,"v":1},{"r":7,"c":94,"v":1},{"r":7,"c":95,"v":1},{"r":7,"c":96,"v":1},{"r":7,"c":97,"v":0.13},{"r":7,"c":98,"v":0},{"r":7,"c":99,"v":0},
{"r":7,"c":100,"v":0},{"r":7,"c":101,"v":0},{"r":7,"c":102,"v":0.13},{"r":7,"c":103,"v":1},{"r":7,"c":104,"v":1},{"r":7,"c":105,"v":1},{"r":7,"c":106,"v":1},{"r":7,"c":107,"v":1},{"r":7,"c":108,"v":0.58},{"r":7,"c":109,"v":0},
{"r":7,"c":110,"v":0},{"r":7,"c":111,"v":0},{"r":7,"c":112,"v":0},{"r":7,"c":113,"v":0},{"r":7,"c":114,"v":0},{"r":7,"c":115,"v":0},{"r":7,"c":116,"v":0},{"r":7,"c":117,"v":0},{"r":7,"c":118,"v":0},{"r":7,"c":119,"v":0},
{"r":7,"c":120,"v":0},{"r":7,"c":121,"v":0},{"r":7,"c":122,"v":0},{"r":7,"c":123,"v":0},{"r":7,"c":124,"v":1},{"r":7,"c":125,"v":1},{"r":7,"c":126,"v":1},{"r":7,"c":127,"v":1},{"r":7,"c":128,"v":1},{"r":7,"c":129,"v":1},
{"r":7,"c":130,"v":1},{"r":7,"c":131,"v":1},{"r":7,"c":132,"v":1},{"r":7,"c":133,"v":1},{"r":7,"c":134,"v":1},{"r":7,"c":135,"v":1},{"r":7,"c":136,"v":0},{"r":7,"c":137,"v":1},{"r":7,"c":138,"v":1},{"r":7,"c":139,"v":1},
{"r":7,"c":140,"v":1},{"r":7,"c":141,"v":1},{"r":7,"c":142,"v":1},{"r":7,"c":143,"v":1},{"r":7,"c":144,"v":1},{"r":7,"c":145,"v":1},{"r":7,"c":146,"v":1},{"r":7,"c":147,"v":1},{"r":7,"c":148,"v":1},{"r":7,"c":149,"v":1},
{"r":7,"c":150,"v":0},{"r":7,"c":151,"v":1},{"r":7,"c":152,"v":1},{"r":7,"c":153,"v":0},{"r":7,"c":154,"v":0},{"r":7,"c":155,"v":0},{"r":7,"c":156,"v":1},{"r":7,"c":157,"v":0},{"r":7,"c":158,"v":0},{"r":7,"c":159,"v":0}
]},
"layer":[
{"mark":{"type":"rect","width":{"band":1.2},"height":{"band":1.012}},
"encoding":{
"x":{"field":"c","type":"ordinal","scale":{"paddingInner":0,"paddingOuter":0},"axis":{"orient":"bottom","zindex":1,"values":[0,20,40,60,80,100,120,140],"labelAngle":0,"labelPadding":32}},
"y":{"field":"r","type":"ordinal","scale":{"paddingInner":0,"paddingOuter":0},"axis":{"orient":"left","zindex":1,"labelPadding":32}},
"color":{"field":"v","type":"quantitative","scale":{"domain":[0,1],"range":["#ffff66","#008066"],"interpolate":"rgb"},"legend":null}
}},
{"mark":{"type":"rect","opacity":0},
"encoding":{
"x":{"field":"c","type":"ordinal","axis":{"orient":"top","zindex":1,"values":[0,20,40,60,80,100,120,140],"labels":false}},
"y":{"field":"r","type":"ordinal","axis":{"orient":"right","zindex":1,"labels":false}}
}}
],
"resolve":{"axis":{"x":"independent","y":"independent"}}
}
